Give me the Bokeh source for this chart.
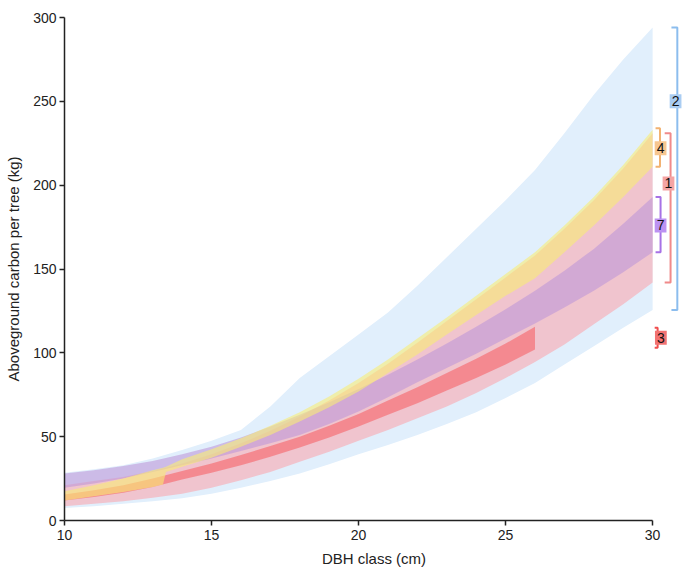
from bokeh.plotting import figure
from bokeh.models import Label, Range1d
from bokeh.embed import file_html
from bokeh.resources import INLINE

# ---------------- data ----------------
xs = [10, 11, 12, 13, 14, 15, 16, 17, 18, 19, 20, 21, 22, 23, 24, 25, 26, 27, 28, 29, 30]

# Species group 2 (light blue)
g2_low = [7.5, 8.5, 10, 11.5, 13.3, 16, 19.5, 23.5, 28, 33.5, 39.5, 45, 51, 57.5, 64.5, 73, 82, 93, 104, 115, 125.5]
g2_high = [28.5, 30.5, 33, 37, 42, 47.5, 54, 68, 85, 98, 111, 124, 140, 157, 174, 191, 209, 231, 254, 275, 294]

# Species group 1 (pink)
g1_low = [8.5, 10, 11.5, 13.5, 16, 19.5, 24, 29, 35, 41, 47.5, 54, 61, 68, 76, 85, 94.5, 105, 117, 129, 142]
g1_high = [21, 23.5, 26, 29.5, 34, 39.5, 46, 53.5, 62, 71.5, 82, 93.5, 106, 119, 132, 145, 158, 174, 191, 210, 231]

# Species group 7 (purple)
g7_low = [19.5, 22, 25, 29, 33, 37, 41.5, 46, 51, 57.5, 65, 73.5, 82.5, 91, 99.5, 108.5, 117.5, 127, 137, 148, 160]
g7_high = [28, 30, 32.5, 35.5, 39.5, 44, 49.5, 56, 63, 70.5, 78.5, 87, 96, 105.5, 115.5, 126, 137, 149, 162, 177, 193]

# Species group 4 (yellow)
xs4 = [10, 11, 12, 13, 13.35, 13.45, 14, 15, 16, 17, 18, 19, 20, 21, 22, 23, 24, 25, 26, 27, 28, 29, 30]
g4_low = [12, 14.5, 17, 20, 21.5, 29, 32, 37.5, 44, 51, 59, 67.5, 77, 88, 99, 111, 122.5, 134, 144.5, 160, 176, 193, 211]
g4_high = [17.5, 21, 25, 30, 31.5, 32, 36.5, 42.5, 49, 56.5, 64.5, 74, 84.5, 96, 108.5, 121, 134, 147, 160, 176, 193, 212, 233]

# Species group 3 (red)
xs3 = [10, 11, 12, 13, 14, 15, 16, 17, 18, 19, 20, 21, 22, 23, 24, 25, 26]
g3_low = [12, 14, 16.5, 20, 24.5, 28.5, 33, 38, 43.5, 49.5, 56, 63, 70, 77.5, 85, 93, 102]
g3_high = [15.5, 18, 21, 25, 29.5, 34, 39, 44.5, 50, 56.5, 63.5, 71.5, 79.5, 88, 96.5, 105.5, 115.5]

# range brackets at x = 30
br_names = ["2", "1", "4", "7", "3"]
br_low = [125.5, 142, 211, 160, 103]
br_high = [294, 231, 234, 193, 115]
br_label_y = [250, 201, 222, 176, 109]

x_ticks = [10, 15, 20, 25, 30]
y_ticks = [0, 50, 100, 150, 200, 250, 300]

# ---------------- figure ----------------
p = figure(width=683, height=569, output_backend="svg", toolbar_location=None,
           x_range=Range1d(10, 31.05), y_range=Range1d(0, 300),
           min_border_left=64, min_border_right=0, min_border_top=17, min_border_bottom=48)
p.outline_line_color = None
p.xgrid.visible = False
p.ygrid.visible = False

p.varea(x=xs, y1=g2_low, y2=g2_high, fill_color="#E1EFFC", fill_alpha=1.0)
p.varea(x=xs, y1=g1_low, y2=g1_high, fill_color="#FF99A0", fill_alpha=0.5)
p.varea(x=xs3, y1=g3_low, y2=g3_high, fill_color="#F76368", fill_alpha=0.6)
p.varea(x=xs, y1=g7_low, y2=g7_high, fill_color="#BE98D8", fill_alpha=0.6)
p.varea(x=xs4, y1=g4_low, y2=g4_high, fill_color="#F9EC75", fill_alpha=0.6)

# bracket styles
br_x = [30.84, 30.61, 30.25, 30.27, 30.17]
br_tick = [0.2, 0.2, 0.15, 0.17, 0.1]
br_lab_x = [30.78, 30.54, 30.27, 30.27, 30.28]
br_color = ["#8CBDEE", "#F08A8A", "#F2B272", "#A772E6", "#F04E4E"]
br_fill = ["#AACDF2", "#F4A4A4", "#F7C690", "#BC92F2", "#F27272"]

for i in range(len(br_names)):
    xv = br_x[i]
    xt = xv - br_tick[i]
    p.line(x=[xt, xv, xv, xt], y=[br_high[i], br_high[i], br_low[i], br_low[i]],
           line_color=br_color[i], line_width=2)
    p.add_layout(Label(x=br_lab_x[i], y=br_label_y[i], text=br_names[i],
                       text_align="center", text_baseline="middle",
                       text_font="Liberation Sans", text_font_size="14px", text_color="#111111",
                       background_fill_color=br_fill[i], background_fill_alpha=1.0,
                       padding=2))

# axes
for ax in (p.xaxis[0], p.yaxis[0]):
    ax.axis_line_color = "#222222"
    ax.axis_line_width = 1.5
    ax.major_tick_line_color = "#222222"
    ax.major_tick_line_width = 1.5
    ax.major_tick_out = 5
    ax.major_tick_in = 0
    ax.minor_tick_line_color = None
    ax.major_label_text_font = "Liberation Sans"
    ax.major_label_text_font_size = "14px"
    ax.major_label_text_color = "#222222"
    ax.axis_label_text_font = "Liberation Sans"
    ax.axis_label_text_font_size = "15px"
    ax.axis_label_text_font_style = "normal"
    ax.axis_label_text_color = "#222222"

p.xaxis.ticker = x_ticks
p.yaxis.ticker = y_ticks
p.xaxis.bounds = (10, 30)
p.yaxis.bounds = (0, 300)
p.xaxis.axis_label = "DBH class (cm)"
p.yaxis.axis_label = "Aboveground carbon per tree (kg)"
p.xaxis.major_label_standoff = 4
p.xaxis.axis_label_standoff = 7
p.yaxis.major_label_standoff = 3
p.yaxis.axis_label_standoff = 8

open("out.html", "w").write(file_html(p, INLINE))
